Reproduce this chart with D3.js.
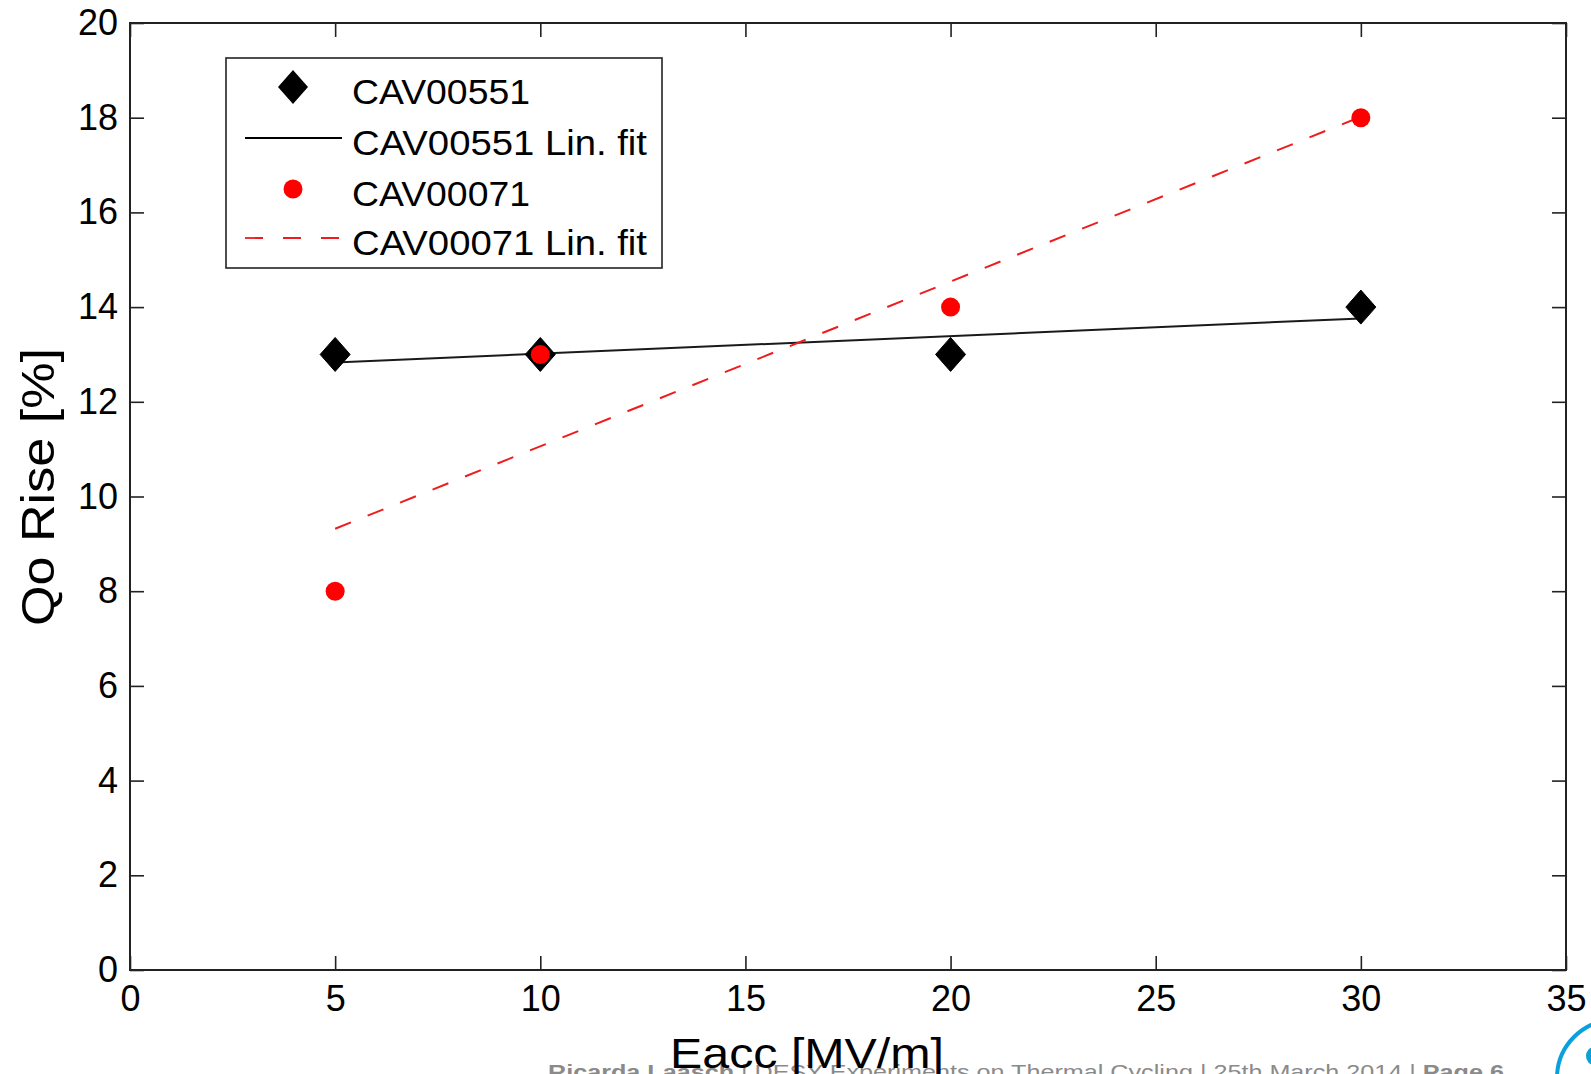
<!DOCTYPE html>
<html>
<head>
<meta charset="utf-8">
<script src="https://cdn.jsdelivr.net/npm/d3@7"></script>
<style>
  html, body { margin: 0; padding: 0; background: #fff; overflow: hidden; }
  svg { display: block; }
  text { font-family: "Liberation Sans", Arial, Helvetica, sans-serif; }
</style>
</head>
<body>
<svg id="chart" width="1591" height="1074"></svg>
<script>
// ---- data ----
const xTicks = [0, 5, 10, 15, 20, 25, 30, 35];
const yTicks = [0, 2, 4, 6, 8, 10, 12, 14, 16, 18, 20];

const eacc551 = [5, 10, 20, 30];
const rise551 = [13, 13, 13, 14];
const eacc071 = [5, 10, 20, 30];
const rise071 = [8, 13, 14, 18];

const fit551X = [5, 30];
const fit551Y = [12.83, 13.76];
const fit071X = [5, 30];
const fit071Y = [9.32, 18.02];

const legendLabels = ["CAV00551", "CAV00551 Lin. fit", "CAV00071", "CAV00071 Lin. fit"];
const xLabel = "Eacc [MV/m]";
const yLabel = "Qo Rise [%]";

// ---- layout ----
const svg = d3.select("#chart");
const L = 130, T = 23, R = 1566, B = 970;
const x = d3.scaleLinear().domain([0, 35]).range([L, R]);
const y = d3.scaleLinear().domain([0, 20]).range([B, T]);
const axisColor = "#222";

// footer (behind)
const footer = svg.append("text")
  .attr("x", 548).attr("y", 1079)
  .attr("font-size", 21).attr("fill", "#8a8a8a")
  .attr("textLength", 956).attr("lengthAdjust", "spacingAndGlyphs");
footer.append("tspan").attr("font-weight", "bold").text("Ricarda Laasch");
footer.append("tspan").text("  |  DESY Experiments on Thermal Cycling  |  25th March 2014  |  ");
footer.append("tspan").attr("font-weight", "bold").text("Page 6");

// logo fragment
svg.append("circle").attr("cx", 1615).attr("cy", 1078).attr("r", 58)
  .attr("fill", "none").attr("stroke", "#0aa0dc").attr("stroke-width", 4);
svg.append("ellipse").attr("cx", 1594).attr("cy", 1056).attr("rx", 8).attr("ry", 9)
  .attr("fill", "#0aa0dc");

// axes
function styleAxis(g) {
  g.select(".domain").remove();
  g.selectAll(".tick line").attr("stroke", axisColor).attr("stroke-width", 1.6);
  g.selectAll(".tick text").attr("fill", "#000").attr("font-size", 36)
    .attr("font-family", "'Liberation Sans', Arial, sans-serif");
}
svg.append("g").attr("transform", `translate(0,${B})`)
  .call(d3.axisBottom(x).tickValues(xTicks).tickSizeInner(-14).tickSizeOuter(0).tickPadding(15))
  .call(styleAxis);
svg.append("g").attr("transform", `translate(0,${T})`)
  .call(d3.axisTop(x).tickValues(xTicks).tickSizeInner(-14).tickSizeOuter(0).tickFormat(""))
  .call(styleAxis);
svg.append("g").attr("transform", `translate(${L},0)`)
  .call(d3.axisLeft(y).tickValues(yTicks).tickSizeInner(-14).tickSizeOuter(0).tickPadding(12))
  .call(styleAxis);
svg.append("g").attr("transform", `translate(${R},0)`)
  .call(d3.axisRight(y).tickValues(yTicks).tickSizeInner(-14).tickSizeOuter(0).tickFormat(""))
  .call(styleAxis);

svg.append("rect").attr("x", L).attr("y", T).attr("width", R - L).attr("height", B - T)
  .attr("fill", "none").attr("stroke", axisColor).attr("stroke-width", 2);

// axis labels
svg.append("text").attr("x", 807).attr("y", 1068).attr("text-anchor", "middle")
  .attr("font-size", 42).attr("fill", "#000")
  .attr("textLength", 274).attr("lengthAdjust", "spacingAndGlyphs").text(xLabel);
svg.append("text").attr("transform", "translate(54,487) rotate(-90)").attr("text-anchor", "middle")
  .attr("font-size", 46).attr("fill", "#000")
  .attr("textLength", 278).attr("lengthAdjust", "spacingAndGlyphs").text(yLabel);

// fit lines
const line = d3.line().x(d => x(d[0])).y(d => y(d[1]));
svg.append("path").datum(d3.zip(fit551X, fit551Y)).attr("d", line)
  .attr("fill", "none").attr("stroke", "#1a1a1a").attr("stroke-width", 2);
svg.append("path").datum(d3.zip(fit071X, fit071Y)).attr("d", line)
  .attr("fill", "none").attr("stroke", "#ee1c1c").attr("stroke-width", 2)
  .attr("stroke-dasharray", "17,18");

// markers
const diamond = (cx, cy) => `M${cx},${cy - 17}L${cx + 15},${cy}L${cx},${cy + 17}L${cx - 15},${cy}Z`;
svg.append("g").selectAll("path").data(d3.zip(eacc551, rise551)).join("path")
  .attr("d", d => diamond(x(d[0]), y(d[1])))
  .attr("fill", "#000").attr("stroke", "#000").attr("stroke-width", 1);
svg.append("g").selectAll("circle").data(d3.zip(eacc071, rise071)).join("circle")
  .attr("cx", d => x(d[0])).attr("cy", d => y(d[1])).attr("r", 9.5)
  .attr("fill", "#ff0000");

// legend
const lg = svg.append("g");
lg.append("rect").attr("x", 226).attr("y", 58).attr("width", 436).attr("height", 210)
  .attr("fill", "#fff").attr("stroke", axisColor).attr("stroke-width", 1.6);
const rowY = [87, 138, 189, 238];
const labelLen = [178, 295, 178, 295];
lg.append("path").attr("d", diamond(293, rowY[0])).attr("fill", "#000");
lg.append("line").attr("x1", 245).attr("x2", 342).attr("y1", rowY[1]).attr("y2", rowY[1])
  .attr("stroke", "#000").attr("stroke-width", 1.8);
lg.append("circle").attr("cx", 293).attr("cy", rowY[2]).attr("r", 9.5).attr("fill", "#ff0000");
lg.append("line").attr("x1", 245).attr("x2", 342).attr("y1", rowY[3]).attr("y2", rowY[3])
  .attr("stroke", "#ee1c1c").attr("stroke-width", 1.8).attr("stroke-dasharray", "18,20");
lg.selectAll("text.lbl").data(legendLabels).join("text").attr("class", "lbl")
  .attr("x", 352).attr("y", (d, i) => rowY[i] + 17)
  .attr("font-size", 35).attr("fill", "#000")
  .attr("textLength", (d, i) => labelLen[i]).attr("lengthAdjust", "spacingAndGlyphs")
  .text(d => d);
</script>
</body>
</html>
